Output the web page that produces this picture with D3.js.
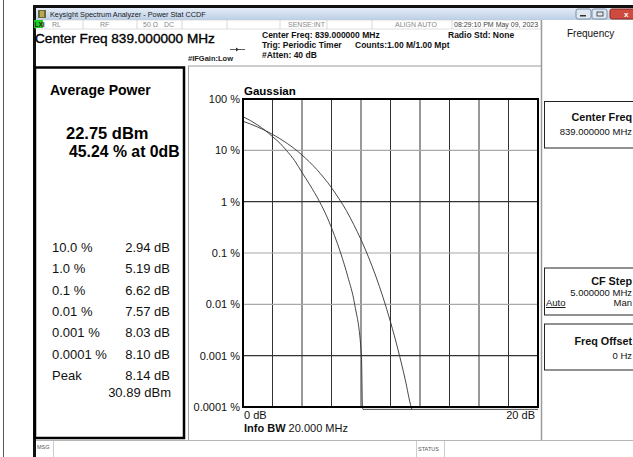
<!DOCTYPE html>
<html>
<head>
<meta charset="utf-8">
<script src="https://cdn.jsdelivr.net/npm/d3@7/dist/d3.min.js"></script>
<style>
  body{margin:0;background:#fff;}
  text{font-family:"Liberation Sans",Arial,sans-serif;}
</style>
</head>
<body>
<div id="chart"></div>
<script>
var measuredDb  = [0, 0.5, 1, 1.5, 2, 2.5, 2.94, 3.5, 4, 4.5, 5.19, 5.7, 6.2, 6.62, 7.1, 7.57, 8.03, 8.10, 8.14, 20]
var measuredPct = [45.24, 38, 31, 24.5, 18.5, 13.8, 10, 6.3, 3.7, 2.2, 1.0, 0.5, 0.22, 0.1, 0.035, 0.01, 0.001, 0.0001, 0.00009, 0.00009]

// gaussian reference trace
var gaussDb  = [0, 0.5, 1, 1.5, 2, 2.5, 3, 3.5, 4, 4.5, 5, 5.5, 6, 6.5, 7, 7.5, 8, 8.5, 9, 9.5, 10, 10.5, 11, 11.4, 11.45]
var gaussPct = [36.8, 32.6, 28.4, 24.4, 20.5, 16.9, 13.6, 10.7, 8.1, 5.97, 4.24, 2.88, 1.87, 1.15, 0.675, 0.361, 0.182, 0.0843, 0.0356, 0.0135, 0.00454, 0.00134, 0.00034, 0.0001, 0.00009]

var yTicks = [100, 10, 1, 0.1, 0.01, 0.001, 0.0001]
var yTickLabels = ["100 %", "10 %", "1 %", "0.1 %", "0.01 %", "0.001 %", "0.0001 %"]
var xTicks = [0, 2, 4, 6, 8, 10, 12, 14, 16, 18, 20]

var statLabels = ["10.0 %", "1.0 %", "0.1 %", "0.01 %", "0.001 %", "0.0001 %", "Peak"]
var statValues = ["2.94 dB", "5.19 dB", "6.62 dB", "7.57 dB", "8.03 dB", "8.10 dB", "8.14 dB"]

var width = 633
var height = 457
var plot = {left:243, right:538, top:99, bottom:407}

var svg = d3.select("#chart").append("svg")
  .attr("width", width)
  .attr("height", height)

var defs = svg.append("defs")
var grad = defs.append("linearGradient").attr("id","titleGrad").attr("x1",0).attr("y1",0).attr("x2",0).attr("y2",1)
grad.append("stop").attr("offset","0%").attr("stop-color","#e3ecf7")
grad.append("stop").attr("offset","100%").attr("stop-color","#bccfe6")
defs.append("clipPath").attr("id","plotClip").append("rect")
  .attr("x",plot.left).attr("y",plot.top).attr("width",plot.right-plot.left).attr("height",plot.bottom-plot.top+4)

// ---------- window chrome ----------
svg.append("line").attr("x1",3.5).attr("x2",3.5).attr("y1",0).attr("y2",height).attr("stroke","#555").attr("stroke-width",1)

svg.append("rect").attr("x",33).attr("y",5).attr("width",width-33).attr("height",3).attr("fill","#111")
svg.append("rect").attr("x",33).attr("y",5).attr("width",3).attr("height",height-5).attr("fill","#111")

svg.append("rect").attr("x",36).attr("y",8).attr("width",width-36).attr("height",12).attr("fill","url(#titleGrad)")
// title icon
svg.append("rect").attr("x",38).attr("y",10).attr("width",8).attr("height",8).attr("fill","#6b6a3a")
svg.append("rect").attr("x",40).attr("y",11).attr("width",4).attr("height",6).attr("fill","#b8a94e")
svg.append("text").attr("x",50).attr("y",17.3).attr("font-size",7.3).attr("fill","#1a1a1a")
  .text("Keysight Spectrum Analyzer - Power Stat CCDF")

// window buttons
svg.append("rect").attr("x",576).attr("y",9).attr("width",15).attr("height",10).attr("rx",2).attr("fill","#dfe7f1").attr("stroke","#7d8fa8")
svg.append("rect").attr("x",580).attr("y",15).attr("width",6).attr("height",1.5).attr("fill","#333")
svg.append("rect").attr("x",592).attr("y",9).attr("width",15).attr("height",10).attr("rx",2).attr("fill","#dfe7f1").attr("stroke","#7d8fa8")
svg.append("rect").attr("x",597).attr("y",12).attr("width",6).attr("height",4).attr("fill","none").attr("stroke","#333").attr("stroke-width",0.8)
svg.append("rect").attr("x",610).attr("y",9).attr("width",30).attr("height",10).attr("rx",2).attr("fill","#cf4b3f").attr("stroke","#8a2a22")
svg.append("text").attr("x",624).attr("y",17).attr("font-size",8).attr("font-weight","bold").attr("fill","#fff").text("x")

// status row
svg.append("rect").attr("x",36).attr("y",20).attr("width",505).attr("height",9).attr("fill","#fff").attr("stroke","#c8c8c8").attr("stroke-width",0.6)
svg.append("rect").attr("x",34).attr("y",20).attr("width",9).attr("height",8).attr("fill","#1fd11f")
svg.append("text").attr("x",34.5).attr("y",26.8).attr("font-size",6.5).attr("font-weight","bold").attr("fill","#222").text("LXI")
var sepX = [83, 137, 182, 227, 280, 327, 372, 452]
svg.append("g").selectAll("line").data(sepX).enter().append("line")
  .attr("x1",function(d){return d}).attr("x2",function(d){return d})
  .attr("y1",20).attr("y2",29).attr("stroke","#c8c8c8").attr("stroke-width",0.7)
var statusTxt = [["RL",52],["RF",100],["50 Ω",143],["DC",164],["SENSE:INT",288],["ALIGN AUTO",395]]
svg.append("g").selectAll("text").data(statusTxt).enter().append("text")
  .attr("x",function(d){return d[1]}).attr("y",27).attr("font-size",7).attr("fill","#8a8a8a")
  .text(function(d){return d[0]})
svg.append("text").attr("x",454).attr("y",27).attr("font-size",7).attr("fill","#444").text("08:29:10 PM May 09, 2023")

// header block
svg.append("text").attr("x",35).attr("y",43).attr("font-size",13.6).attr("fill","#000")
  .attr("stroke","#000").attr("stroke-width",0.35).text("Center Freq 839.000000 MHz")
var hdr = svg.append("g").attr("font-size",8.5).attr("font-weight","bold").attr("fill","#111")
hdr.append("text").attr("x",262).attr("y",38).text("Center Freq: 839.000000 MHz")
hdr.append("text").attr("x",262).attr("y",47.5).text("Trig: Periodic Timer")
hdr.append("text").attr("x",355).attr("y",47.5).text("Counts:1.00 M/1.00 Mpt")
hdr.append("text").attr("x",262).attr("y",57.5).text("#Atten: 40 dB")
hdr.append("text").attr("x",448).attr("y",38).text("Radio Std: None")
svg.append("text").attr("x",188).attr("y",61).attr("font-size",7.5).attr("font-weight","bold").attr("fill","#222").text("#IFGain:Low")
// little trigger arrow
svg.append("line").attr("x1",230).attr("x2",245).attr("y1",49.5).attr("y2",49.5).attr("stroke","#333").attr("stroke-width",0.8)
svg.append("path").attr("d","M236,47.5 L239,49.5 L236,51.5 Z").attr("fill","#333")

// panel frames
svg.append("line").attr("x1",188).attr("x2",541).attr("y1",66).attr("y2",66).attr("stroke","#9a9a9a")
svg.append("line").attr("x1",188.5).attr("x2",188.5).attr("y1",66).attr("y2",440).attr("stroke","#a0a0a0")
svg.append("line").attr("x1",541.5).attr("x2",541.5).attr("y1",20).attr("y2",440).attr("stroke","#9a9a9a").attr("stroke-width",1.5)
svg.append("line").attr("x1",36).attr("x2",width).attr("y1",440.5).attr("y2",440.5).attr("stroke","#b5b5b5")

// message bar
svg.append("text").attr("x",37).attr("y",449).attr("font-size",5.5).attr("fill","#555").text("MSG")
svg.append("line").attr("x1",53.5).attr("x2",53.5).attr("y1",441).attr("y2",457).attr("stroke","#ccc")
svg.append("line").attr("x1",416.5).attr("x2",416.5).attr("y1",441).attr("y2",457).attr("stroke","#ccc")
svg.append("line").attr("x1",444.5).attr("x2",444.5).attr("y1",441).attr("y2",457).attr("stroke","#ccc")
svg.append("text").attr("x",418).attr("y",451).attr("font-size",5.5).attr("fill","#555").text("STATUS")

// ---------- left results panel ----------
svg.append("rect").attr("x",35).attr("y",67.5).attr("width",149).attr("height",370.5)
  .attr("fill","none").attr("stroke","#000").attr("stroke-width",2.5)
svg.append("text").attr("x",50).attr("y",95).attr("font-size",14).attr("font-weight","bold").text("Average Power")
svg.append("text").attr("x",66).attr("y",138.5).attr("font-size",16.5).attr("font-weight","bold").text("22.75 dBm")
svg.append("text").attr("x",69).attr("y",156.5).attr("font-size",15.8).attr("font-weight","bold").text("45.24 % at 0dB")

var rowY = d3.scaleLinear().domain([0, statLabels.length-1]).range([252, 380])
var rows = svg.append("g").selectAll("g").data(statLabels).enter().append("g")
rows.append("text").attr("x",52).attr("y",function(d,i){return rowY(i)})
  .attr("font-size",13).attr("fill","#111").text(function(d){return d})
rows.append("text").attr("x",170).attr("y",function(d,i){return rowY(i)})
  .attr("text-anchor","end").attr("font-size",13).attr("fill","#111").text(function(d,i){return statValues[i]})
svg.append("text").attr("x",171).attr("y",397).attr("text-anchor","end").attr("font-size",13).attr("fill","#111").text("30.89 dBm")

// ---------- CCDF plot ----------
var x = d3.scaleLinear().domain([0, 20]).range([plot.left, plot.right])
var y = d3.scaleLog().domain([0.0001, 100]).range([plot.bottom, plot.top])

svg.append("g").selectAll("line").data(xTicks.slice(1,-1)).enter().append("line")
  .attr("x1",function(d){return x(d)}).attr("x2",function(d){return x(d)})
  .attr("y1",plot.top).attr("y2",plot.bottom)
  .attr("stroke","#333").attr("stroke-width",1)

svg.append("g").selectAll("line").data(yTicks.slice(1,-1)).enter().append("line")
  .attr("x1",plot.left).attr("x2",plot.right)
  .attr("y1",function(d){return y(d)}).attr("y2",function(d){return y(d)})
  .attr("stroke",function(d,i){ return (i==1 || i==4) ? "#333" : "#a8a8a8" })
  .attr("stroke-width",1.2)

svg.append("g").selectAll("text").data(yTicks).enter().append("text")
  .attr("x",240).attr("y",function(d){return y(d)}).attr("dy","0.36em")
  .attr("text-anchor","end").attr("font-size",11).attr("fill","#111")
  .text(function(d,i){return yTickLabels[i]})

var line = d3.line()
  .x(function(d){return x(d[0])})
  .y(function(d){return y(d[1])})
  .curve(d3.curveMonotoneX)

var curves = svg.append("g").attr("clip-path","url(#plotClip)")
curves.append("path")
  .datum(gaussDb.map(function(d,i){return [d, gaussPct[i]]}))
  .attr("d",line).attr("fill","none").attr("stroke","#333").attr("stroke-width",0.9)
curves.append("path")
  .datum(measuredDb.map(function(d,i){return [d, measuredPct[i]]}))
  .attr("d",line).attr("fill","none").attr("stroke","#333").attr("stroke-width",0.9)

svg.append("rect").attr("x",plot.left).attr("y",plot.top)
  .attr("width",plot.right-plot.left).attr("height",plot.bottom-plot.top)
  .attr("fill","none").attr("stroke","#000").attr("stroke-width",2)

svg.append("text").attr("x",244).attr("y",95).attr("font-size",11.5).attr("font-weight","bold").text("Gaussian")
svg.append("text").attr("x",x(xTicks[0])+1).attr("y",419).attr("font-size",11).attr("fill","#111").text(xTicks[0]+" dB")
svg.append("text").attr("x",x(xTicks[xTicks.length-1])-3).attr("y",419).attr("text-anchor","end").attr("font-size",11).attr("fill","#111").text(xTicks[xTicks.length-1]+" dB")
var bw = svg.append("text").attr("x",244).attr("y",432).attr("font-size",11).attr("fill","#111")
bw.append("tspan").attr("font-weight","bold").text("Info BW ")
bw.append("tspan").text("20.000 MHz")

// ---------- right softkey panel ----------
svg.append("text").attr("x",567).attr("y",37).attr("font-size",10).attr("fill","#111").text("Frequency")

function softkey(y0, h){
  svg.append("rect").attr("x",544.5).attr("y",y0).attr("width",100).attr("height",h)
    .attr("fill","#fff").attr("stroke","#222").attr("stroke-width",1)
}
softkey(101.5, 46.5)
softkey(268, 47)
softkey(324, 46)

var sk = svg.append("g").attr("fill","#111")
sk.append("text").attr("x",632).attr("y",121).attr("text-anchor","end").attr("font-size",10.8).attr("font-weight","bold").text("Center Freq")
sk.append("text").attr("x",632).attr("y",135).attr("text-anchor","end").attr("font-size",9.5).text("839.000000 MHz")
sk.append("text").attr("x",632).attr("y",285).attr("text-anchor","end").attr("font-size",10.8).attr("font-weight","bold").text("CF Step")
sk.append("text").attr("x",632).attr("y",296).attr("text-anchor","end").attr("font-size",9.5).text("5.000000 MHz")
sk.append("text").attr("x",546).attr("y",306).attr("font-size",9.5).attr("text-decoration","underline").text("Auto")
sk.append("text").attr("x",632).attr("y",306).attr("text-anchor","end").attr("font-size",9.5).text("Man")
sk.append("text").attr("x",632).attr("y",345).attr("text-anchor","end").attr("font-size",10.8).attr("font-weight","bold").text("Freq Offset")
sk.append("text").attr("x",632).attr("y",358.5).attr("text-anchor","end").attr("font-size",9.5).text("0 Hz")
</script>
</body>
</html>
